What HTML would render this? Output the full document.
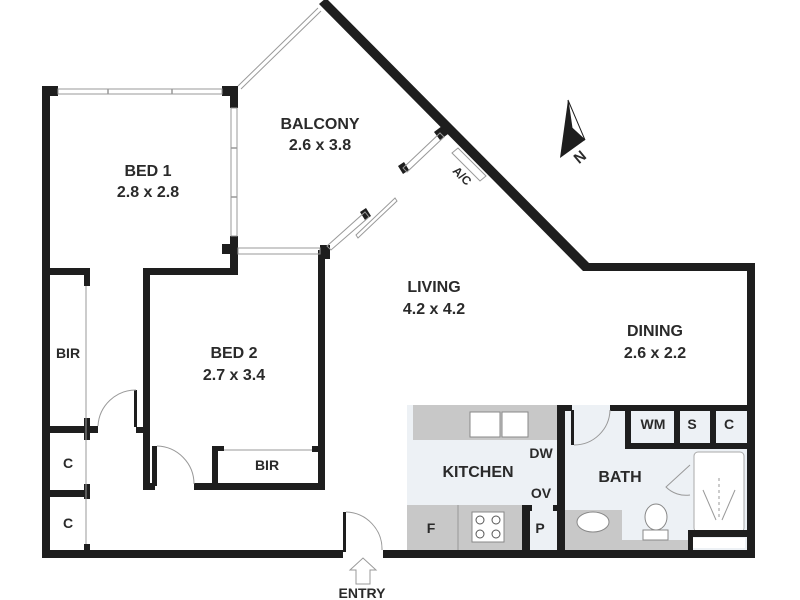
<!DOCTYPE html>
<html><head><style>body{margin:0;background:#fff}svg{display:block}text{font-family:"Liberation Sans",sans-serif;font-weight:bold;fill:#2a2a2a;text-anchor:middle}</style></head>
<body>
<svg width="800" height="600" viewBox="0 0 800 600" xmlns="http://www.w3.org/2000/svg">
<rect x="407" y="405" width="150" height="145" fill="#edf1f5"/>
<rect x="565" y="405" width="182" height="145" fill="#edf1f5"/>
<rect x="413" y="405" width="144" height="35" fill="#c8c8c8"/>
<rect x="407" y="505" width="115" height="45" fill="#c8c8c8"/>
<line x1="458" y1="505" x2="458" y2="550" stroke="#999" stroke-width="1"/>
<rect x="565" y="510" width="57" height="30" fill="#c8c8c8"/>
<rect x="565" y="540" width="125" height="10" fill="#c8c8c8"/>
<rect x="470" y="412" width="30" height="25" fill="#fff" stroke="#888"/>
<rect x="502" y="412" width="26" height="25" fill="#fff" stroke="#888"/>
<rect x="472" y="512" width="32" height="30" fill="#fff" stroke="#888"/>
<circle cx="480" cy="520" r="4" fill="none" stroke="#555"/><circle cx="496" cy="520" r="4" fill="none" stroke="#555"/>
<circle cx="480" cy="534" r="4" fill="none" stroke="#555"/><circle cx="496" cy="534" r="4" fill="none" stroke="#555"/>
<ellipse cx="593" cy="522" rx="16" ry="10" fill="#fff" stroke="#888"/>
<ellipse cx="656" cy="517" rx="11" ry="13" fill="#fff" stroke="#888"/>
<rect x="643" y="530" width="25" height="10" fill="#fff" stroke="#888"/>
<rect x="694" y="452" width="50" height="80" rx="4" fill="#fff" stroke="#aaa"/>
<line x1="719" y1="478" x2="719" y2="520" stroke="#999" stroke-dasharray="3,3"/>
<line x1="703" y1="490" x2="716" y2="520" stroke="#999"/><line x1="735" y1="490" x2="722" y2="520" stroke="#999"/>
<rect x="693" y="538" width="52" height="10" fill="#fff"/>
<g fill="#1e1e1e">
<rect x="42" y="88" width="8" height="470"/>
<rect x="42" y="550" width="301" height="8"/>
<rect x="383" y="550" width="372" height="8"/>
<rect x="747" y="263" width="8" height="295"/>
<rect x="583" y="263" width="172" height="8"/>
<polygon points="319,4 326,-2 590,264 583,271"/>
<rect x="42" y="86" width="16" height="10"/>
<rect x="222" y="86" width="16" height="10"/>
<rect x="230" y="86" width="8" height="22"/>
<rect x="230" y="236" width="8" height="34"/>
<rect x="222" y="244" width="16" height="10"/>
<rect x="320" y="245" width="10" height="14"/>
<polygon points="434,132 442,126 448,134 440,140"/>
<polygon points="398,166 404,162 409,170 403,174"/>
<polygon points="360,212 366,208 371,216 365,220"/>
<rect x="42" y="268" width="48" height="7"/>
<rect x="84" y="268" width="6" height="18"/>
<rect x="143" y="268" width="95" height="7"/>
<rect x="143" y="268" width="7" height="222"/>
<rect x="318" y="250" width="7" height="240"/>
<rect x="194" y="483" width="131" height="7"/>
<rect x="143" y="483" width="12" height="7"/>
<rect x="152" y="446" width="5" height="40"/>
<rect x="212" y="446" width="6" height="44"/>
<rect x="212" y="446" width="12" height="5"/>
<rect x="312" y="446" width="8" height="6"/>
<rect x="50" y="426" width="48" height="7"/>
<rect x="84" y="418" width="6" height="22"/>
<rect x="50" y="490" width="40" height="7"/>
<rect x="84" y="484" width="6" height="15"/>
<rect x="84" y="544" width="6" height="8"/>
<rect x="134" y="390" width="3" height="37"/>
<rect x="136" y="427" width="8" height="6"/>
<rect x="343" y="512" width="3" height="40"/>
<rect x="557" y="405" width="8" height="150"/>
<rect x="557" y="405" width="15" height="6"/>
<rect x="571" y="410" width="3" height="35"/>
<rect x="610" y="405" width="137" height="6"/>
<rect x="625" y="405" width="6" height="44"/>
<rect x="625" y="443" width="122" height="6"/>
<rect x="674" y="405" width="6" height="42"/>
<rect x="710" y="405" width="6" height="42"/>
<rect x="688" y="530" width="59" height="7"/>
<rect x="688" y="530" width="5" height="22"/>
<rect x="522" y="505" width="8" height="47"/>
<rect x="522" y="505" width="10" height="6"/>
<rect x="553" y="505" width="6" height="6"/>
</g>
<g fill="none" stroke="#999" stroke-width="1">
<rect x="58" y="89" width="164" height="5"/>
<rect x="231" y="108" width="6" height="128"/>
<rect x="238" y="248" width="82" height="6"/>
<line x1="238" y1="86" x2="318" y2="8"/><line x1="241" y1="89" x2="321" y2="11"/>
<polygon points="403,168 440,133 444,137 407,172"/>
<polygon points="327,246 365,212 369,217 331,250"/>
<polygon points="356,235 395,198 397,201 358,238"/>
<polygon points="452,153 458,148 486,176 480,181"/>
<line x1="86" y1="286" x2="86" y2="544"/>
<line x1="224" y1="450" x2="312" y2="450"/>
<path d="M98,426 A38,38 0 0 1 136,390"/>
<path d="M157,446 A38,38 0 0 1 194,484"/>
<path d="M346,512 A37,37 0 0 1 382,550"/>
<path d="M574,445 A36,36 0 0 0 610,410"/>
<path d="M690,465 L666,487 A28,28 0 0 0 690,495"/>
<path d="M356,584 L356,570 L350,570 L363,558 L376,570 L370,570 L370,584 Z"/>
</g>
<g stroke="#999" stroke-width="1.5"><line x1="231" y1="148" x2="237" y2="148"/><line x1="231" y1="197" x2="237" y2="197"/><line x1="108" y1="89" x2="108" y2="94"/><line x1="172" y1="89" x2="172" y2="94"/></g>
<polygon points="560,158 568,100 585,140" fill="#1e1e1e"/>
<polygon points="568,100 585,140 572,128" fill="#fff" stroke="#1e1e1e"/>
<text x="580" y="162" font-size="15" transform="rotate(-40 580 157)">N</text>
<g font-size="16">
<text x="148" y="176">BED 1</text><text x="148" y="197">2.8 x 2.8</text>
<text x="320" y="129">BALCONY</text><text x="320" y="150">2.6 x 3.8</text>
<text x="434" y="292">LIVING</text><text x="434" y="314">4.2 x 4.2</text>
<text x="655" y="336">DINING</text><text x="655" y="358">2.6 x 2.2</text>
<text x="234" y="358">BED 2</text><text x="234" y="380">2.7 x 3.4</text>
<text x="478" y="477">KITCHEN</text>
<text x="620" y="482">BATH</text>
</g>
<g font-size="14">
<text x="68" y="358">BIR</text><text x="267" y="470">BIR</text>
<text x="68" y="468">C</text><text x="68" y="528">C</text>
<text x="541" y="458">DW</text><text x="541" y="498">OV</text>
<text x="540" y="533">P</text><text x="431" y="533">F</text>
<text x="653" y="429">WM</text><text x="692" y="429">S</text><text x="729" y="429">C</text>
<text x="362" y="598">ENTRY</text>
</g>
<text x="462" y="180" font-size="12" transform="rotate(45 462 176)">A/C</text>
</svg>
</body></html>
